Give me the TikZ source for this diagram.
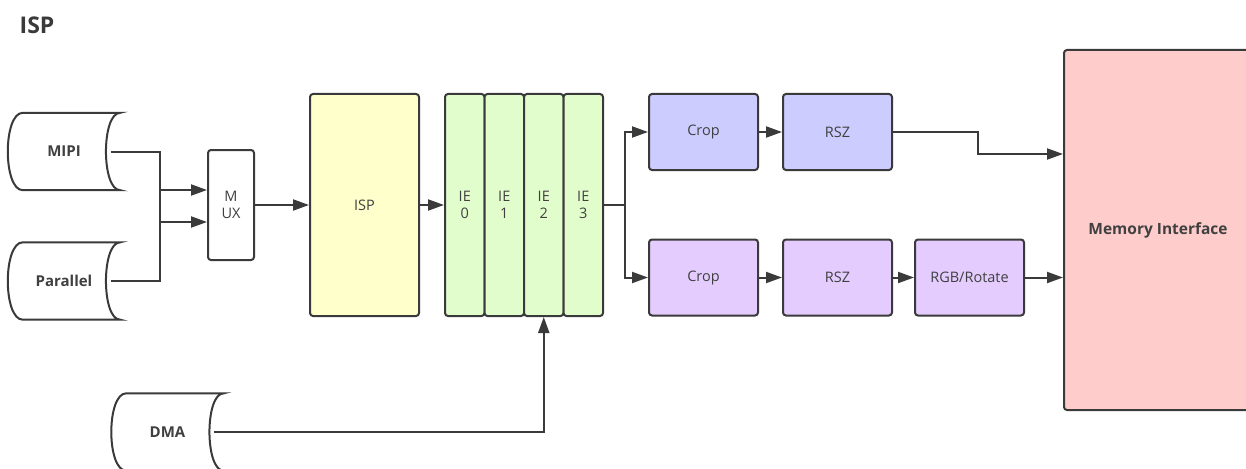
\documentclass[tikz,border=0pt]{standalone}
\usepackage{fontspec}
\setmainfont{Open Sans}
\usetikzlibrary{arrows.meta}
\definecolor{ink}{HTML}{3A3A3A}
\definecolor{txt}{HTML}{404040}
\definecolor{ispfill}{HTML}{FFFFCC}
\definecolor{iefill}{HTML}{E2FDCC}
\definecolor{bluefill}{HTML}{CCCCFF}
\definecolor{purplefill}{HTML}{E5CCFF}
\definecolor{memfill}{HTML}{FFCCCC}
\tikzset{
  blk/.style={draw=ink, line width=2pt, rounded corners=3pt, text=txt,
    font=\fontsize{14.5}{16.5}\selectfont, align=center, inner sep=0pt},
  storenode/.style={minimum width=112pt, minimum height=77pt, inner sep=0pt,
    text=txt, font=\bfseries\fontsize{15}{16}\selectfont},
  storeline/.style={draw=ink, line width=2pt},
  link/.style={draw=ink, line width=2pt,
    -{Triangle[length=16pt,width=11pt]}},
  plain/.style={draw=ink, line width=2pt},
}
% outline of a stored-data symbol around a named node
\newcommand\storeshape[1]{%
  \draw[storeline] ([xshift=15pt]#1.north west) -- (#1.north east)
    .. controls ([xshift=-19pt]#1.north east) and ([xshift=-19pt]#1.south east) .. (#1.south east)
    -- ([xshift=15pt]#1.south west)
    .. controls ([xshift=-5pt]#1.south west) and ([xshift=-5pt]#1.north west) .. ([xshift=15pt]#1.north west) -- cycle;}
\begin{document}
\begin{tikzpicture}[x=1pt,y=-1pt]
\useasboundingbox (0,0) rectangle (1246,468);
\clip (0,0) rectangle (1246,468);
\fill[white] (0,0) rectangle (1246,468);

% heading
\node[text=ink, font=\bfseries\fontsize{23}{24}\selectfont] (title) at (37,25) {ISP};

% sources
\node[storenode] (mipi) at (64,151.5) {MIPI};
\storeshape{mipi}
\node[storenode] (par) at (64,281) {Parallel};
\storeshape{par}
\node[storenode] (dma) at (167.5,432) {DMA};
\storeshape{dma}

% mux and pipeline
\node[blk, fill=white, minimum width=46pt, minimum height=110pt] (mux) at (231,205) {M\\UX};
\node[blk, fill=ispfill, minimum width=109pt, minimum height=222pt] (isp) at (364.5,205) {ISP};
\node[blk, fill=iefill, minimum width=39.5pt, minimum height=222pt] (ie0) at (464.75,205) {IE\\0};
\node[blk, fill=iefill, minimum width=39.5pt, minimum height=222pt] (ie1) at (504.25,205) {IE\\1};
\node[blk, fill=iefill, minimum width=39.5pt, minimum height=222pt] (ie2) at (543.75,205) {IE\\2};
\node[blk, fill=iefill, minimum width=39.5pt, minimum height=222pt] (ie3) at (583.25,205) {IE\\3};

% output branches
\node[blk, fill=bluefill, minimum width=109pt, minimum height=76pt] (crop1) at (703.5,132) {Crop};
\node[blk, fill=bluefill, minimum width=109pt, minimum height=76pt] (rsz1) at (837.5,132) {RSZ};
\node[blk, fill=purplefill, minimum width=109pt, minimum height=76pt] (crop2) at (703.5,277.5) {Crop};
\node[blk, fill=purplefill, minimum width=109pt, minimum height=76pt] (rsz2) at (837.5,277.5) {RSZ};
\node[blk, fill=purplefill, minimum width=109pt, minimum height=76pt] (rgb) at (969.5,277.5) {RGB/Rotate};

% memory
\node[blk, fill=memfill, minimum width=188pt, minimum height=360pt,
  font=\bfseries\fontsize{15.5}{17}\selectfont] (mem) at (1158,230) {Memory Interface};

% junction points
\coordinate (mipiout) at ([xshift=-9pt]mipi.east);
\coordinate (parout) at ([xshift=-9pt]par.east);
\coordinate (dmaout) at ([xshift=-10pt]dma.east);
\coordinate (split) at (625,205);

% connectors
\draw[link] (mipiout) -- (160,151.5) |- ([yshift=-17pt]mux.west);
\draw[link] (parout) -- (160,281) |- ([yshift=15pt]mux.west);
\draw[link] (mux.east) -- (isp.west);
\draw[link] (isp.east) -- (ie0.west);
\draw[plain] (ie3.east) -- (split);
\draw[link] (split) |- (crop1.west);
\draw[link] (split) |- (crop2.west);
\draw[link] (crop1.east) -- (rsz1.west);
\draw[link] (crop2.east) -- (rsz2.west);
\draw[link] (rsz2.east) -- (rgb.west);
\draw[link] (rsz1.east) -- (978,132) |- (mem.west |- 0,154);
\draw[link] (rgb.east) -- (mem.west |- rgb.east);
\draw[link] (dmaout) -| (ie2.south);
\end{tikzpicture}
\end{document}
